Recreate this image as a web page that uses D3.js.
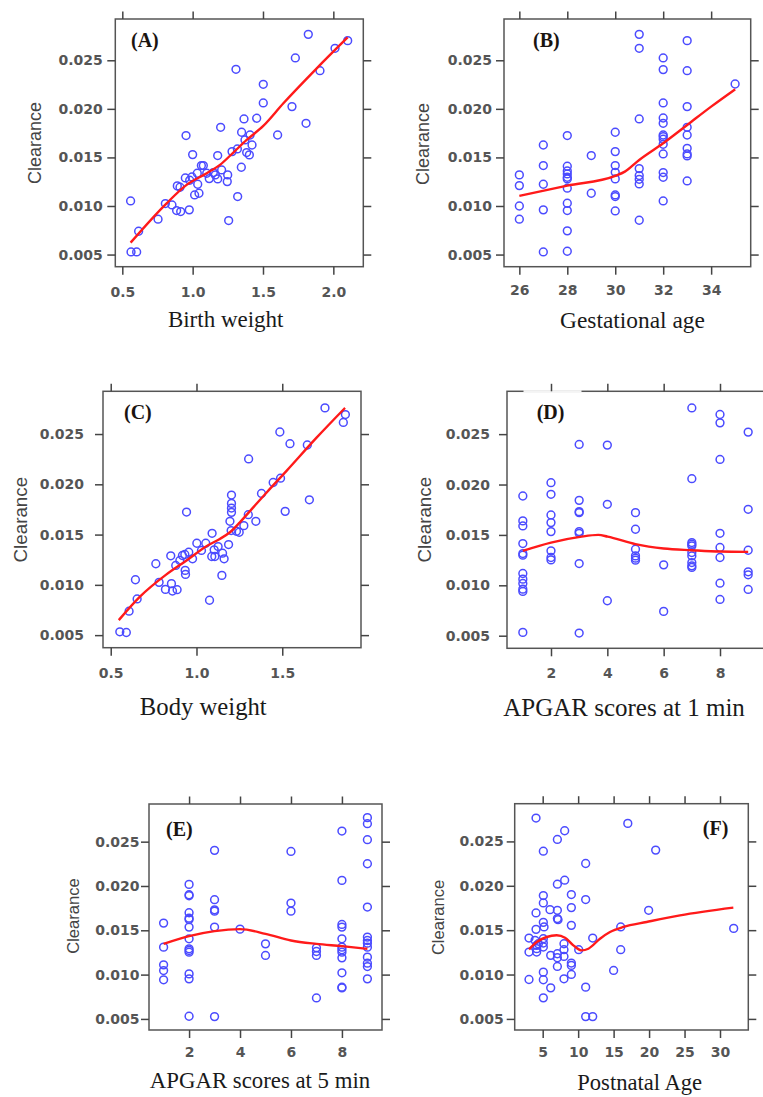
<!DOCTYPE html>
<html>
<head>
<meta charset="utf-8" />
<script src="https://cdn.jsdelivr.net/npm/d3@7"></script>
<title>Clearance covariates</title>
<style>
  body { margin: 0; background: #fff; }
  .tick text { font-family: "DejaVu Sans", sans-serif; font-size: 14px; font-weight: bold; fill: #555; }
  .tick line { stroke: #444; stroke-width: 1.5; }
  .frame { fill: none; stroke: #555; stroke-width: 1.5; }
  .pt { fill: none; stroke: #4b4bff; stroke-width: 1.5; }
  .smooth { fill: none; stroke: #ff1a1a; stroke-width: 2.4; }
  .ylab { font-family: "Liberation Sans", Arial, sans-serif; fill: #444; }
  .xlab { font-family: "Liberation Serif", "Times New Roman", serif; fill: #1a1a1a; }
  .tag { font-family: "Liberation Serif", "Times New Roman", serif; font-weight: bold; font-size: 20px; fill: #1a1410; }
</style>
</head>
<body>
<script>
// ---- data ----
var clearanceTicks = [0.005, 0.010, 0.015, 0.020, 0.025];
var bwTicks = [0.5, 1.0, 1.5, 2.0];
var gaTicks = [26, 28, 30, 32, 34];
var bodyTicks = [0.5, 1.0, 1.5];
var apgarTicks = [2, 4, 6, 8];
var pnaTicks = [5, 10, 15, 20, 25, 30];

var bwPoints = [[0.559,0.01052],[0.562,0.00527],[0.602,0.00527],[0.616,0.0074],[0.754,0.00864],[0.806,0.01025],[0.853,0.01011],[0.886,0.00953],[0.915,0.00943],[0.891,0.01207],[0.91,0.01193],[0.976,0.0096],[0.953,0.01725],[0.948,0.01289],[0.979,0.01265],[0.995,0.01299],[1.0,0.01529],[1.014,0.01114],[1.036,0.01224],[1.045,0.01131],[1.033,0.01337],[1.062,0.01416],[1.076,0.01416],[1.1,0.01337],[1.118,0.01282],[1.147,0.01344],[1.161,0.0132],[1.178,0.01279],[1.178,0.01519],[1.199,0.0181],[1.206,0.01371],[1.249,0.0132],[1.246,0.01251],[1.256,0.0085],[1.28,0.0156],[1.308,0.02407],[1.318,0.01587],[1.32,0.01097],[1.346,0.01399],[1.348,0.01759],[1.365,0.01896],[1.372,0.0168],[1.384,0.0155],[1.403,0.01526],[1.408,0.01731],[1.422,0.01628],[1.455,0.01903],[1.502,0.02253],[1.502,0.02061],[1.604,0.01731],[1.706,0.02023],[1.73,0.02524],[1.806,0.01851],[1.822,0.02767],[1.905,0.02393],[2.012,0.02623],[2.102,0.02702]];
var bwSmooth = [[0.559,0.00623],[0.815,0.01028],[0.957,0.01217],[1.1,0.01337],[1.194,0.01423],[1.289,0.0155],[1.384,0.0168],[1.502,0.01824],[1.645,0.02057],[1.882,0.02417],[2.102,0.02736]];

var gaPoints = [[26,0.0132],[26,0.0121],[26,0.0100],[26,0.00864],
  [27,0.01628],[27,0.01416],[27,0.01224],[27,0.0096],[27,0.00527],
  [28,0.01725],[28,0.01409],[28,0.01361],[28,0.0133],[28,0.01296],[28,0.01279],[28,0.01183],[28,0.01028],[28,0.00953],[28,0.00744],[28,0.00534],
  [29,0.01519],[29,0.01131],
  [30,0.01759],[30,0.0156],[30,0.01416],[30,0.01347],[30,0.01279],[30,0.01114],[30,0.01097],[30,0.00949],
  [31,0.02767],[31,0.02623],[31,0.01896],[31,0.01385],[31,0.01313],[31,0.01275],[31,0.01227],[31,0.00853],
  [32,0.02524],[32,0.02404],[32,0.02061],[32,0.01906],[32,0.01851],[32,0.01731],[32,0.01714],[32,0.01687],[32,0.01635],[32,0.01536],[32,0.01344],[32,0.01296],[32,0.01052],
  [33,0.02702],[33,0.02393],[33,0.02023],[33,0.0181],[33,0.01731],[33,0.01594],[33,0.01536],[33,0.01515],[33,0.01258],
  [35,0.02256]];
var gaSmooth = [[26,0.01104],[28,0.0121],[30,0.0131],[30.4,0.01354],[31,0.01474],[32,0.01646],[33,0.01834],[34,0.02023],[35,0.02201]];

var bodyPoints = [[0.553,0.00533],[0.591,0.00526],[0.607,0.00738],[0.644,0.01051],[0.654,0.0086],[0.763,0.0121],[0.782,0.01025],[0.819,0.00955],[0.85,0.01289],[0.854,0.01012],[0.86,0.00939],[0.887,0.00952],[0.879,0.01193],[0.903,0.01243],[0.918,0.01292],[0.932,0.01302],[0.934,0.01144],[0.936,0.01104],[0.942,0.01724],[0.955,0.01325],[0.977,0.01259],[1.002,0.01414],[1.029,0.01342],[1.054,0.01414],[1.091,0.01513],[1.089,0.01282],[1.107,0.01282],[1.103,0.01348],[1.126,0.01381],[1.148,0.01094],[1.152,0.01315],[1.161,0.01259],[1.076,0.00847],[1.187,0.01401],[1.195,0.01632],[1.204,0.01893],[1.204,0.0181],[1.204,0.01764],[1.204,0.01721],[1.202,0.0154],[1.233,0.01533],[1.249,0.01523],[1.276,0.01589],[1.302,0.01698],[1.304,0.02252],[1.346,0.01632],[1.379,0.01909],[1.447,0.02018],[1.49,0.02061],[1.486,0.0252],[1.517,0.01731],[1.545,0.02404],[1.646,0.02391],[1.658,0.01846],[1.749,0.0276],[1.856,0.02615],[1.868,0.02694]];
var bodySmooth = [[0.547,0.00649],[0.669,0.0088],[0.825,0.01104],[0.942,0.01243],[1.058,0.01384],[1.136,0.01457],[1.195,0.01523],[1.253,0.01622],[1.331,0.01771],[1.409,0.01919],[1.525,0.02134],[1.7,0.02464],[1.866,0.0276]];

var apgar1Points = [[1,0.01886],[1,0.01639],[1,0.01589],[1,0.01414],[1,0.01315],[1,0.01299],[1,0.01117],[1,0.01061],[1,0.01018],[1,0.00962],[1,0.00939],[1,0.00533],
  [2,0.02018],[2,0.01903],[2,0.01698],[2,0.01622],[2,0.01533],[2,0.01342],[2,0.01276],[2,0.01252],
  [3,0.02398],[3,0.01843],[3,0.01731],[3,0.01721],[3,0.01533],[3,0.01516],[3,0.01216],[3,0.00526],
  [4,0.02391],[4,0.01804],[4,0.00847],
  [5,0.01721],[5,0.01556],[5,0.01358],[5,0.01292],[5,0.01269],[5,0.01249],
  [6,0.01203],[6,0.00741],
  [7,0.0276],[7,0.02058],[7,0.01424],[7,0.01408],[7,0.01391],[7,0.01325],[7,0.01292],[7,0.01226],[7,0.01193],[7,0.01177],
  [8,0.02695],[8,0.02612],[8,0.02249],[8,0.01516],[8,0.01375],[8,0.01276],[8,0.01021],[8,0.0086],
  [9,0.0252],[9,0.01754],[9,0.01348],[9,0.01134],[9,0.01104],[9,0.00959]];
var apgar1Smooth = [[1,0.01342],[2,0.01424],[3.03,0.0148],[3.68,0.0150],[4.01,0.01483],[5,0.01408],[6,0.01365],[7,0.01348],[8,0.01335],[9,0.01332]];

var apgar5Points = [[1,0.01581],[1,0.0131],[1,0.0111],[1,0.01046],[1,0.00941],
  [2,0.02018],[2,0.01901],[2,0.0189],[2,0.01698],[2,0.01637],[2,0.01622],[2,0.01536],[2,0.01404],[2,0.01291],[2,0.01272],[2,0.01253],[2,0.01008],[2,0.00952],[2,0.0053],
  [3,0.02402],[3,0.01845],[3,0.01731],[3,0.01716],[3,0.01536],[3,0.00526],
  [4,0.01513],
  [5,0.01347],[5,0.01216],
  [6,0.0239],[6,0.01807],[6,0.01716],
  [7,0.01302],[7,0.01261],[7,0.01216],[7,0.00737],
  [8,0.0262],[8,0.02063],[8,0.01566],[8,0.01536],[8,0.01404],[8,0.0131],[8,0.0128],[8,0.01253],[8,0.01189],[8,0.0102],[8,0.00858],[8,0.0085],
  [9,0.02771],[9,0.02703],[9,0.02522],[9,0.02251],[9,0.01762],[9,0.01423],[9,0.01385],[9,0.01355],[9,0.0131],[9,0.01197],[9,0.01129],[9,0.01091],[9,0.00952]];
var apgar5Smooth = [[1,0.01347],[2,0.01434],[3,0.0149],[4,0.01513],[5,0.0146],[6,0.01385],[7,0.01347],[8,0.01321],[9,0.01291]];

var pnaPoints = [[3.07,0.01253],[3.07,0.01411],[3.07,0.00944],[4.06,0.02763],[4.06,0.01694],[4.06,0.01509],[3.92,0.01385],[4.15,0.01329],[4.15,0.01291],[4.15,0.01253],[4.39,0.01347],[5.09,0.0239],[5.09,0.0189],[5.09,0.01807],[5.09,0.01588],[5.19,0.01536],[5.09,0.01404],[5.09,0.01355],[5.09,0.0131],[5.09,0.01027],[5.09,0.00941],[5.09,0.00737],[6.03,0.01731],[6.13,0.01216],[6.13,0.0085],[7.07,0.02522],[7.07,0.02018],[7.07,0.01724],[7.07,0.0163],[7.16,0.01618],[7.07,0.01234],[7.07,0.01189],[7.07,0.01091],[8.1,0.0262],[8.1,0.02063],[8.0,0.01347],[8.0,0.0128],[8.0,0.01204],[8.0,0.00952],[9.04,0.01901],[9.04,0.01754],[9.04,0.01554],[9.04,0.01129],[9.04,0.01103],[9.04,0.01001],[10.08,0.0128],[11.06,0.02251],[11.06,0.01845],[11.06,0.00858],[11.06,0.00526],[12.05,0.00526],[12.05,0.01411],[15.0,0.01046],[16.0,0.01536],[16.0,0.0128],[17.0,0.02703],[19.94,0.01724],[20.93,0.02402],[31.93,0.0152]];
var pnaSmooth = [[3.07,0.01283],[4.15,0.01366],[5.56,0.01423],[6.97,0.01442],[8.15,0.01415],[9.32,0.01329],[10.5,0.01272],[11.44,0.01291],[13.08,0.01404],[14.49,0.01479],[16.37,0.01536],[19.66,0.01592],[24.36,0.01667],[31.88,0.01754]];

// ---- layout of the six panels ----
var yDomain = [0.00375, 0.02925];
var panels = [
  {tag: "(A)", tagX: 131, tagY: 46.5, tagAnchor: "start", title: "Birth weight", titleX: 225.7, titleY: 326.7, titleSize: 23,
   ylabX: 35, ylabY: 143, ylabSize: 18, x0: 115.3, x1: 363.3, y0: 19, y1: 266.7, xDomain: [0.4502, 2.213],
   xTicks: bwTicks, xFmt: ".1f", xPad: 12.2, yPad: 4.5, pts: bwPoints, fit: bwSmooth},
  {tag: "(B)", tagX: 533, tagY: 46.5, tagAnchor: "start", title: "Gestational age", titleX: 632.5, titleY: 328.3, titleSize: 23.4,
   ylabX: 422.7, ylabY: 144, ylabSize: 18, x0: 504, x1: 750.7, y0: 19, y1: 266.7, xDomain: [25.36, 35.65],
   xTicks: gaTicks, xFmt: "d", xPad: 10.5, yPad: 4, pts: gaPoints, fit: gaSmooth},
  {tag: "(C)", tagX: 124, tagY: 419, tagAnchor: "start", title: "Body weight", titleX: 203.3, titleY: 715, titleSize: 24.7,
   ylabX: 20, ylabY: 519.7, ylabSize: 18.8, x0: 103, x1: 361, y0: 391.3, y1: 647.7, xDomain: [0.455, 1.959],
   xTicks: bodyTicks, xFmt: ".1f", xPad: 12.5, yPad: 11, pts: bodyPoints, fit: bodySmooth},
  {tag: "(D)", tagX: 536.7, tagY: 419, tagAnchor: "start", title: "APGAR scores at 1 min", titleX: 624, titleY: 715.7, titleSize: 25,
   ylabX: 424, ylabY: 519.7, ylabSize: 18.8, x0: 507, x1: 764, y0: 391.3, y1: 648.3, xDomain: [0.438, 9.562],
   xTicks: apgarTicks, xFmt: "d", xPad: 11.4, yPad: 9, pts: apgar1Points, fit: apgar1Smooth, gap: [523.5, 581.5]},
  {tag: "(E)", tagX: 166, tagY: 836.4, tagAnchor: "start", title: "APGAR scores at 5 min", titleX: 260, titleY: 1088.3, titleSize: 22.8,
   ylabX: 73.3, ylabY: 916, ylabSize: 16.6, x0: 149, x1: 382, y0: 804, y1: 1030, xDomain: [0.427, 9.573],
   xTicks: apgarTicks, xFmt: "d", xPad: 8.9, yPad: 1.5, pts: apgar5Points, fit: apgar5Smooth},
  {tag: "(F)", tagX: 728.3, tagY: 835, tagAnchor: "end", title: "Postnatal Age", titleX: 639.7, titleY: 1090, titleSize: 22.6,
   ylabX: 438.3, ylabY: 917.5, ylabSize: 16.5, x0: 514.7, x1: 748.3, y0: 803.7, y1: 1030, xDomain: [1.053, 33.99],
   xTicks: pnaTicks, xFmt: "d", xPad: 8.9, yPad: 3, pts: pnaPoints, fit: pnaSmooth}
];

var svg = d3.select("body").append("svg")
    .attr("width", 763)
    .attr("height", 1097);

panels.forEach(function(p) {
    var x = d3.scaleLinear().domain(p.xDomain).range([p.x0, p.x1]);
    var y = d3.scaleLinear().domain(yDomain).range([p.y1, p.y0]);
    var g = svg.append("g");

    g.append("rect")
        .attr("class", "frame")
        .attr("x", p.x0).attr("y", p.y0)
        .attr("width", p.x1 - p.x0).attr("height", p.y1 - p.y0);

    // a pale break in the top border of panel D
    if (p.gap) {
        g.append("rect")
            .attr("x", p.gap[0]).attr("y", p.y0 - 1.2)
            .attr("width", p.gap[1] - p.gap[0]).attr("height", 2.4)
            .attr("fill", "#f4f4f4");
    }

    // lattice style: ticks on all four sides, labels only bottom and left
    g.append("g")
        .attr("transform", "translate(0," + p.y1 + ")")
        .call(d3.axisBottom(x).tickValues(p.xTicks).tickFormat(d3.format(p.xFmt))
            .tickSize(8).tickPadding(p.xPad).tickSizeOuter(0));
    g.append("g")
        .attr("transform", "translate(0," + p.y0 + ")")
        .call(d3.axisTop(x).tickValues(p.xTicks).tickFormat("").tickSize(7.5).tickSizeOuter(0));
    g.append("g")
        .attr("transform", "translate(" + p.x0 + ",0)")
        .call(d3.axisLeft(y).tickValues(clearanceTicks).tickFormat(d3.format(".3f"))
            .tickSize(8).tickPadding(p.yPad).tickSizeOuter(0));
    g.append("g")
        .attr("transform", "translate(" + p.x1 + ",0)")
        .call(d3.axisRight(y).tickValues(clearanceTicks).tickFormat("").tickSize(8).tickSizeOuter(0));
    g.selectAll(".domain").remove();

    g.selectAll(".pt")
        .data(p.pts)
        .enter().append("circle")
        .attr("class", "pt")
        .attr("cx", function(d) { return x(d[0]); })
        .attr("cy", function(d) { return y(d[1]); })
        .attr("r", 3.9);

    g.append("path")
        .datum(p.fit)
        .attr("class", "smooth")
        .attr("d", d3.line()
            .x(function(d) { return x(d[0]); })
            .y(function(d) { return y(d[1]); })
            .curve(d3.curveMonotoneX));

    g.append("text")
        .attr("class", "tag")
        .attr("x", p.tagX).attr("y", p.tagY)
        .attr("text-anchor", p.tagAnchor)
        .text(p.tag);

    g.append("text")
        .attr("class", "xlab")
        .attr("x", p.titleX).attr("y", p.titleY)
        .attr("text-anchor", "middle")
        .style("font-size", p.titleSize + "px")
        .text(p.title);

    g.append("text")
        .attr("class", "ylab")
        .attr("transform", "translate(" + p.ylabX + "," + p.ylabY + ") rotate(-90)")
        .attr("text-anchor", "middle")
        .attr("dy", "0.35em")
        .style("font-size", p.ylabSize + "px")
        .text("Clearance");
});
</script>
</body>
</html>
